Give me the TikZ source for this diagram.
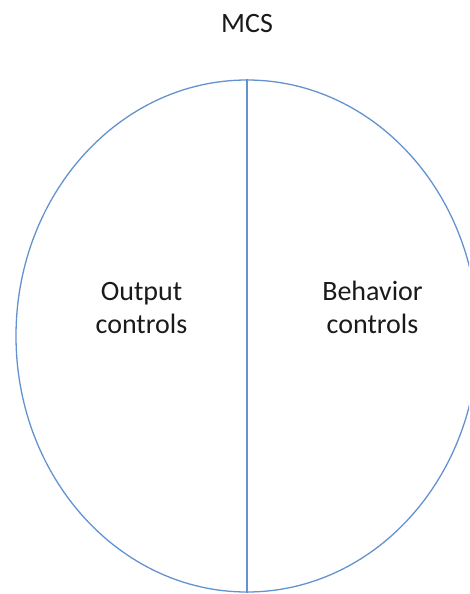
\documentclass[tikz,border=0pt]{standalone}
\usepackage{fontspec}
\setmainfont{Carlito}
\usetikzlibrary{shapes.geometric}
\definecolor{ovalblue}{RGB}{98,146,208}
\definecolor{txt}{RGB}{26,26,26}
\begin{document}
\begin{tikzpicture}[x=1pt,y=1pt,
  lbl/.style={font=\fontsize{28}{34}\selectfont, text=txt, inner sep=0pt, anchor=base},
  oval/.style={draw=ovalblue, line width=1.3pt, ellipse, inner sep=0pt, minimum width=462pt, minimum height=512pt}]
\useasboundingbox (0,0) rectangle (469,-594);
\clip (0,0) rectangle (469,-594);
\node[oval] (mcsoval) at (247,-336) {};
\draw[ovalblue, line width=1.3pt] (mcsoval.north) -- (mcsoval.south);
\node[lbl] (title) at (247,-33) {MCS};
\node[lbl] (out1) at (141.5,-300) {Output};
\node[lbl] (out2) at (141.5,-333) {controls};
\node[lbl] (beh1) at (372.5,-300) {Behavior};
\node[lbl] (beh2) at (372.5,-333) {controls};
\end{tikzpicture}
\end{document}
